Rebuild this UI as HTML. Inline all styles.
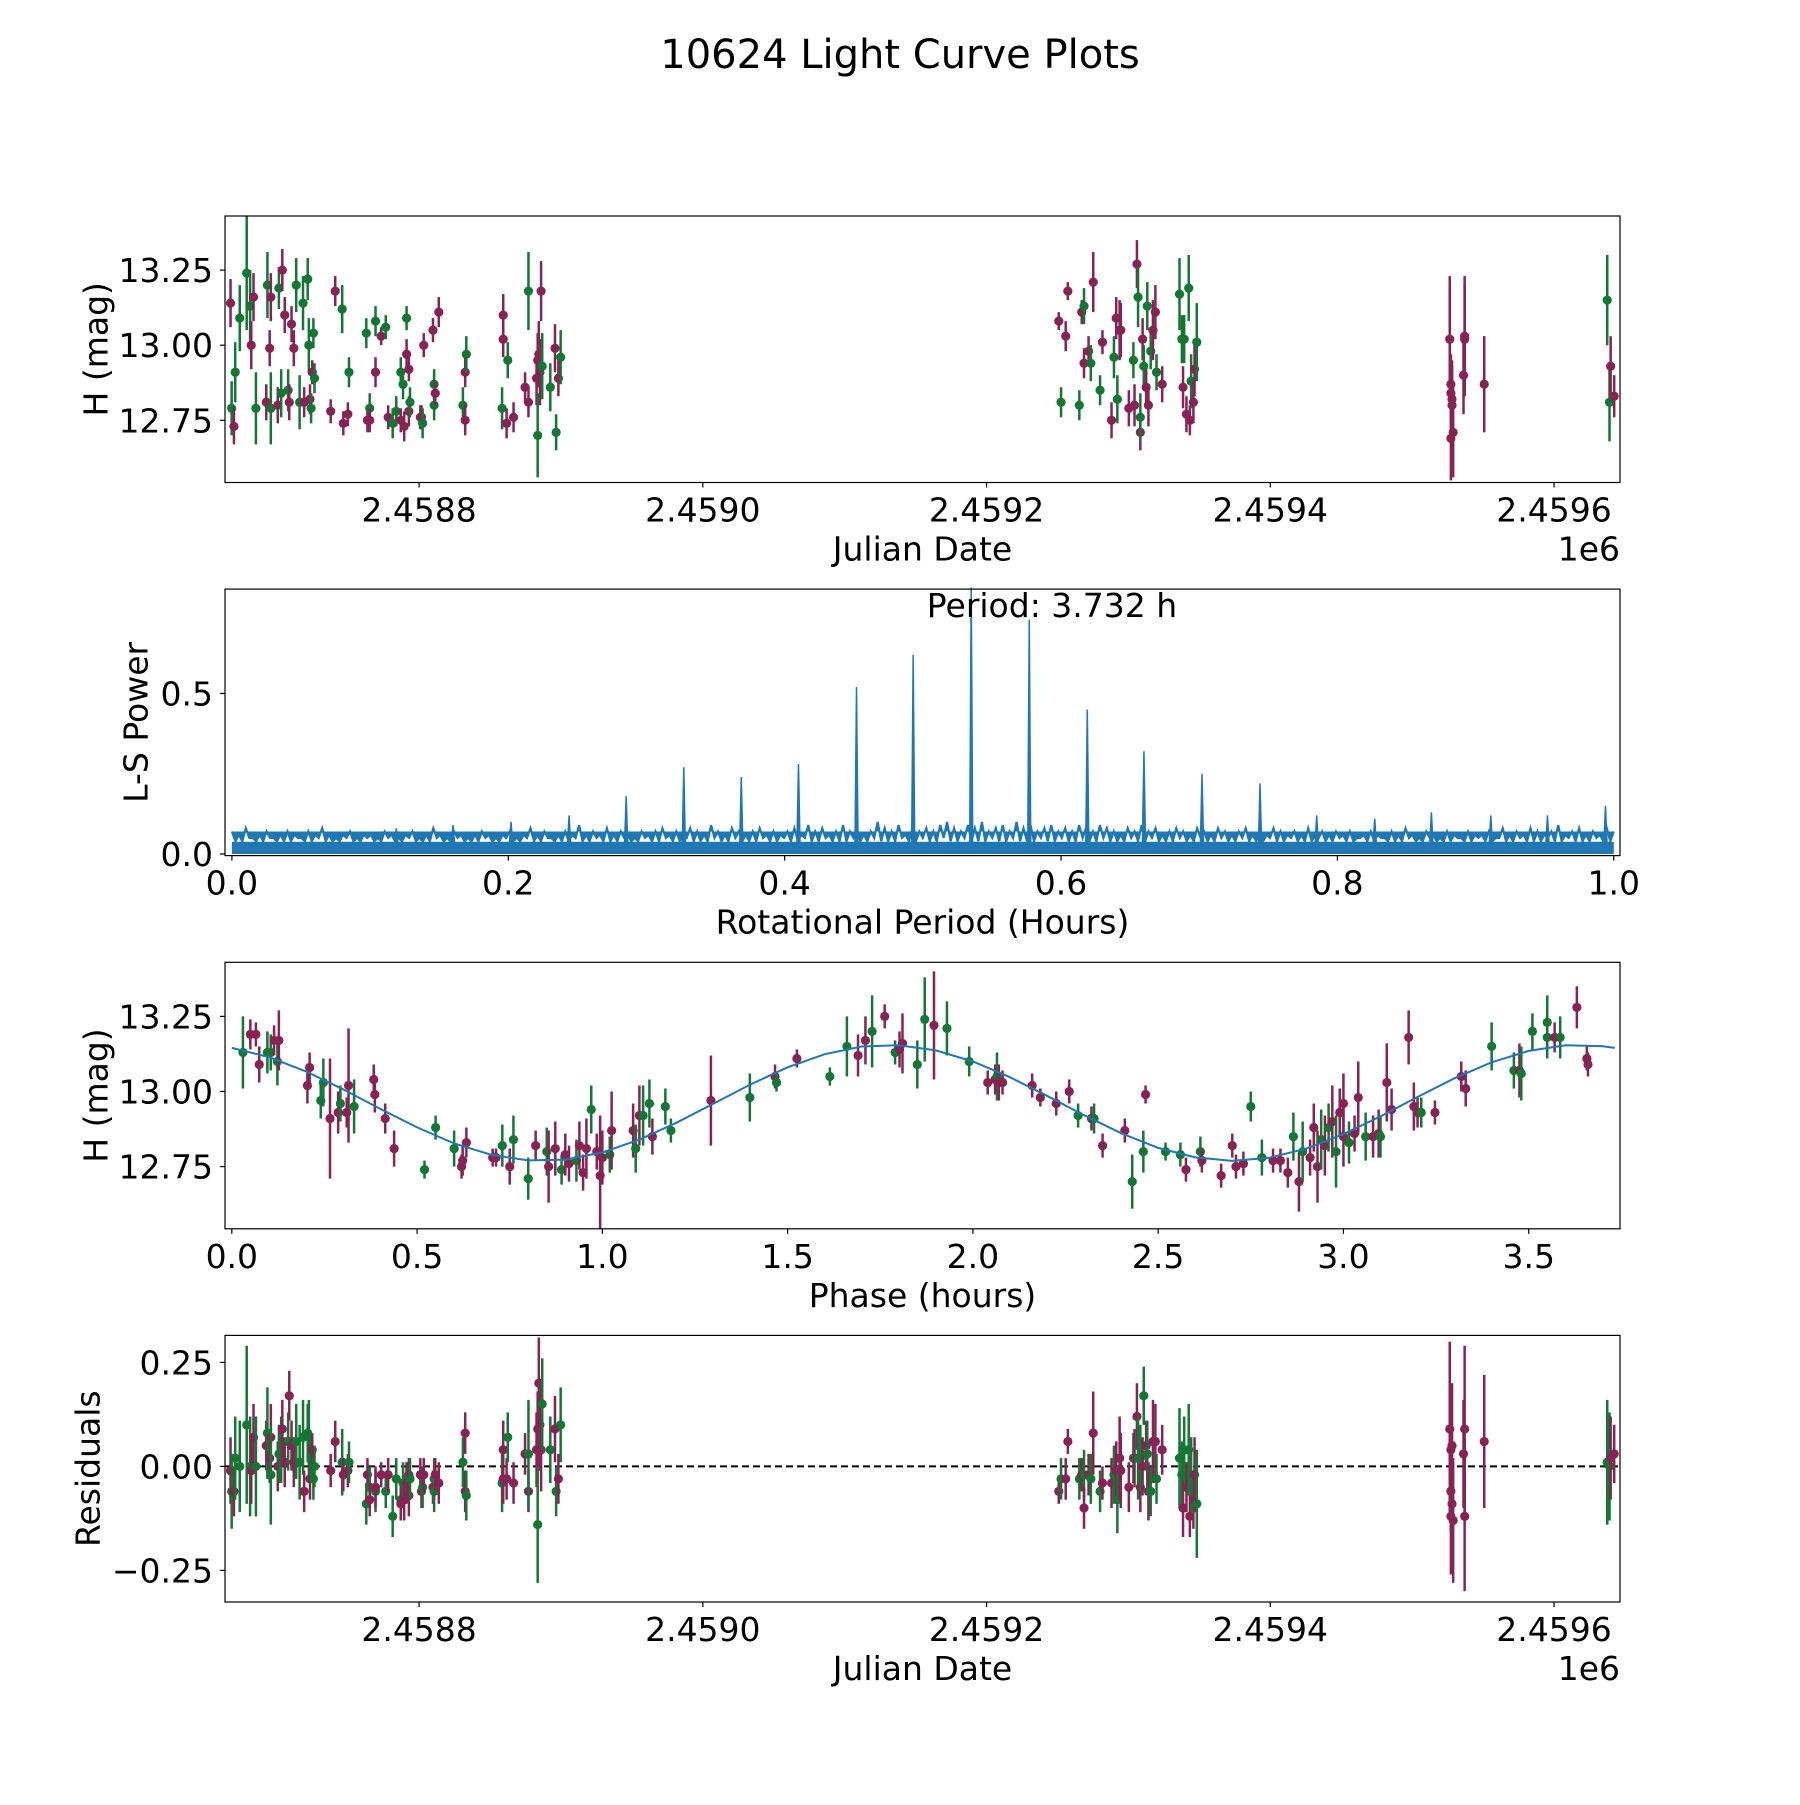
<!DOCTYPE html>
<html><head><meta charset="utf-8"><title>10624 Light Curve Plots</title>
<style>html,body{margin:0;padding:0;background:#fff}svg text{font-family:"DejaVu Sans","Liberation Sans",sans-serif;fill:#000}</style>
</head><body>
<svg id="fig" xmlns="http://www.w3.org/2000/svg" width="1800" height="1800" viewBox="0 0 1800 1800">
<rect width="1800" height="1800" fill="#fff"/>
<text x="900" y="68" font-size="40" text-anchor="middle">10624 Light Curve Plots</text>
<g id="g1"></g>
<g id="g2"></g>
<g id="g3"></g>
<g id="g4"></g>
</svg>
<script>
const JD0 = 2458015.5;
const obsT = [651.6,652.4,654,654.9,658.1,663,665.4,666.2,667.8,669.5,676.8,677.6,679.2,680,680,684.9,685.7,687.3,688.1,689.8,692.2,693,694.6,696.2,697.9,700.3,702.7,703.5,706,706.8,707.6,708.4,709.2,710,710.8,
722.2,725.4,730.3,731.1,734.3,735.1,747.3,748.1,749.7,749.7,753.8,753.8,757.8,761,762.7,765.9,768.4,771.6,771.6,773.2,774,775.7,775.7,777.3,777.3,778.1,785.4,786.2,787,787.8,794.3,795.1,795.1,795.9,798.4,
815.4,817,817,817.8,843,843.8,843.8,846.2,847,851.1,859.2,861.6,861.6,867.3,868.1,868.1,868.9,869.7,870.5,871.3,877,880.3,881.1,882.7,884.3,
1235.4,1237,1240.3,1241.8,1249.9,1251.6,1253.2,1253.2,1256.4,1258,1259.7,1264.5,1266.2,1272.6,1274.3,1275.9,1276.7,1278.3,1279.1,1284.8,1288,1288.8,1290.5,1291.3,1292.9,1292.9,1294.5,1295.3,1297,1297.8,1298.6,1300.2,1301.8,1303.5,1304.3,1308.3,1320.5,1322.2,1323,1323.8,1325.4,1327,1327.8,1328.7,1330.3,1331.1,1332.7,
1511,1511.8,1511.8,1511.8,1512.6,1512.6,1513.4,1520.7,1521.5,1521.5,1535.3,
1622,1623.6,1624.4,1626.9];
const obsMag = [13.14,12.79,12.73,12.91,13.09,13.24,13.13,13.00,13.16,12.79,12.81,13.20,12.99,13.16,12.79,12.80,13.19,12.84,13.25,13.10,12.85,12.81,13.07,12.99,13.20,12.81,13.14,12.81,13.22,13.00,12.82,12.79,12.91,13.04,12.89,
12.78,13.18,13.12,12.74,12.77,12.91,13.04,12.75,12.79,12.75,13.08,12.91,13.03,13.06,12.76,12.74,12.78,12.91,12.75,12.87,12.73,13.09,12.97,12.92,12.78,12.81,12.76,12.76,12.74,13.00,13.05,12.80,12.87,12.84,13.11,
12.80,12.91,12.75,12.97,12.79,13.10,13.02,12.74,12.95,12.76,12.86,12.81,13.18,12.89,12.95,12.70,12.97,12.91,13.18,12.93,12.86,12.99,12.71,12.89,12.96,
13.08,12.81,13.03,13.18,12.80,13.11,13.13,12.94,12.98,12.94,13.21,12.85,13.01,12.75,12.96,13.09,12.82,13.05,13.05,12.79,12.95,12.80,13.27,13.16,12.71,12.76,13.02,12.93,12.86,13.13,12.80,12.98,13.05,13.11,12.91,12.87,13.17,13.02,12.86,13.02,12.77,13.19,12.75,12.88,12.81,12.92,13.01,
13.02,12.87,12.84,12.69,12.80,12.82,12.71,12.90,13.03,13.02,12.87,
13.15,12.81,12.93,12.83];
const obsErr = [8,9,6,10,11,19,12,8,8,12,6,11,6,8,12,6,7,8,7,6,7,6,6,6,9,9,9,5,7,9,5,5,4,5,5,
4,5,8,4,4,5,5,4,5,4,5,5,3,4,4,5,5,5,4,5,5,4,5,4,5,5,4,4,5,4,4,5,5,4,5,
6,5,5,6,7,7,6,5,6,5,5,5,13,9,9,14,11,11,10,11,8,8,6,6,9,
3,5,5,3,5,4,6,5,5,6,10,5,4,6,7,7,8,10,9,6,6,7,8,10,6,8,7,7,6,8,7,6,10,9,6,6,12,8,7,8,6,11,5,9,7,9,13,
21,10,10,14,15,11,15,13,20,18,16,
15,13,10,7];
const obsResid = [-0.01,-0.06,-0.06,0.02,0.0,0.1,0.0,-0.01,0.07,0.0,0.05,0.08,0.02,0.07,-0.02,0.0,0.03,0.04,0.09,0.01,0.06,0.17,0.05,0.01,0.06,0.01,0.07,-0.06,0.08,0.07,-0.03,0.02,0.04,-0.03,0.0,
-0.01,0.06,0.01,-0.02,-0.01,0.01,-0.09,-0.02,-0.05,-0.08,-0.06,-0.05,-0.02,-0.06,-0.02,-0.12,-0.03,-0.08,-0.09,-0.04,-0.08,-0.03,-0.04,-0.02,-0.07,-0.03,-0.02,-0.06,-0.05,-0.02,-0.05,-0.03,-0.06,-0.02,-0.04,
0.01,0.08,-0.06,-0.07,-0.04,0.04,-0.03,-0.03,0.07,-0.04,0.03,-0.06,0.03,0.04,0.09,-0.14,0.2,0.1,0.04,0.15,0.04,0.09,-0.06,-0.03,0.1,
-0.06,-0.03,-0.03,0.06,-0.03,-0.02,-0.02,-0.1,-0.02,-0.03,0.08,-0.06,-0.04,-0.04,-0.02,-0.01,-0.08,0.02,-0.01,-0.05,0.02,0.02,0.12,0.02,-0.05,0.02,0.0,0.17,0.05,0.03,-0.06,-0.06,0.06,0.06,-0.03,0.04,0.02,-0.02,-0.1,0.04,-0.05,0.04,-0.12,-0.02,-0.08,-0.02,-0.09,
0.09,0.04,-0.06,-0.12,0.05,-0.09,-0.13,0.03,0.09,-0.12,0.06,
0.01,0.0,0.02,0.03];
const obsBand = "mgmggggmmgmgmmgmggmmgmmmgggmggmgmgg mmgmmggmgmgmmgmgggmgmgmmmgmmgmmggmm gmmggmmmgmmmgmmgmmmggmgmg mgmmgmgmmgmgmmgmgmmmgmmgmgmgmgmgmmgmggmgmgmgmmg mmmmmmmmmmm ggmm".replace(/ /g,"");

const phP = [0.03,0.05,0.065,0.074,0.096,0.105,0.114,0.123,0.127,0.204,0.21,0.24,0.247,0.265,0.287,0.293,0.31,0.315,0.33,0.383,0.386,0.414,0.438,0.52,0.55,0.6,0.62,0.623,0.633,0.704,0.713,0.73,0.75,0.76,0.8,0.82,0.85,0.855,0.873,0.89,0.9,0.91,0.93,0.938,0.948,0.957,0.97,0.985,0.994,1.0,1.02,1.025,1.083,1.09,1.1,1.11,1.127,1.135,1.17,1.185,1.293,1.398,1.466,1.47,1.525,1.614,1.66,1.69,1.71,1.728,1.762,1.79,1.802,1.81,1.85,1.87,1.895,1.93,1.99,2.04,2.06,2.065,2.07,2.08,2.16,2.182,2.225,2.26,2.284,2.32,2.327,2.35,2.41,2.43,2.466,2.46,2.52,2.56,2.575,2.614,2.618,2.67,2.7,2.71,2.73,2.75,2.78,2.81,2.83,2.85,2.865,2.88,2.89,2.91,2.92,2.93,2.94,2.95,2.96,2.97,2.98,2.99,3.0,3.0,3.015,3.03,3.04,3.06,3.08,3.095,3.1,3.117,3.13,3.176,3.19,3.2,3.21,3.247,3.318,3.33,3.4,3.46,3.475,3.48,3.51,3.55,3.55,3.57,3.585,3.63,3.657,3.66];
const phMag = [13.13,13.19,13.19,13.09,13.13,13.13,13.17,13.10,13.17,13.02,13.08,12.97,13.03,12.91,12.93,12.96,12.93,13.02,12.95,13.04,12.99,12.91,12.81,12.74,12.88,12.81,12.75,12.77,12.83,12.78,12.78,12.82,12.75,12.84,12.71,12.82,12.80,12.75,12.81,12.74,12.79,12.76,12.77,12.82,12.73,12.81,12.94,12.80,12.72,12.78,12.79,12.87,12.87,12.81,12.92,12.92,12.96,12.85,12.95,12.87,12.97,12.98,13.05,13.03,13.11,13.05,13.15,13.12,13.17,13.20,13.25,13.13,13.14,13.16,13.09,13.24,13.22,13.21,13.10,13.03,13.04,13.05,13.03,13.03,13.02,12.98,12.96,13.00,12.92,12.91,12.91,12.82,12.87,12.70,12.99,12.80,12.80,12.79,12.74,12.80,12.77,12.72,12.82,12.75,12.76,12.95,12.78,12.77,12.77,12.73,12.85,12.70,12.80,12.78,12.88,12.75,12.84,12.82,12.88,12.90,12.80,12.93,12.96,12.85,12.83,12.86,12.98,12.85,12.85,12.86,12.85,13.03,12.94,13.18,12.95,12.93,12.93,12.93,13.05,13.01,13.15,13.07,13.07,13.06,13.20,13.18,13.23,13.18,13.18,13.28,13.11,13.09];
const phErr = [12,5,4,6,7,6,5,8,10,6,5,6,8,20,7,6,5,19,9,5,6,5,6,3,4,6,4,5,5,3,3,7,6,8,7,5,8,12,9,5,7,6,7,8,6,10,8,6,20,9,6,13,9,8,10,10,8,6,6,4,15,8,4,3,3,3,10,7,8,12,4,4,6,10,8,14,18,9,5,4,5,8,6,4,4,3,4,4,4,4,5,4,4,9,3,7,3,4,4,5,4,4,4,4,4,5,6,4,4,5,8,10,10,6,8,12,10,10,8,12,12,8,10,10,7,6,12,8,7,8,7,13,7,9,8,5,5,4,5,6,8,6,9,9,6,7,9,5,7,7,4,4];
const phBand = "gmmmggmgmmmggmmgmmgmmmmgggmmmmmgmggmgmmgmmgmmmgmmmgmmgmggmggmgmgmggmmgmgmmggmggmmgmmmmmmgmgmmgmggg mgmmmmmggmmmgmgmmmgmgmgmmmgmmgmmgmmmmmgmmmggmggggmgmmm".replace(/ /g,"");

const fitPeriodHalf = 1.866;
const fitMean = 12.962;
const fitAmp = 0.193;
const fitPhase0 = 1.77;
const fitSamples = [0,0.1,0.2,0.3,0.4,0.5,0.6,0.7,0.8,0.9,1.0,1.1,1.2,1.3,1.4,1.5,1.6,1.7,1.8,1.9,2.0,2.1,2.2,2.3,2.4,2.5,2.6,2.7,2.8,2.9,3.0,3.1,3.2,3.3,3.4,3.5,3.6,3.7,3.732];

const lsNoise = [7,6,8,5,6,7,5,6,7,6,5,7,6,8,6,5,6,7,5,6,
6,5,7,6,5,6,7,5,6,8,6,5,7,6,5,6,7,6,5,6,
7,5,6,8,6,7,5,6,7,6,9,6,7,6,8,6,7,6,5,7,
6,7,8,6,7,6,8,7,6,9,7,6,8,7,6,7,8,6,7,6,
7,8,6,9,7,8,6,7,9,7,8,6,7,10,8,7,9,6,8,7,
8,7,9,10,8,7,9,8,10,7,8,9,7,10,8,9,7,8,9,7,
8,7,9,8,7,9,8,7,6,8,7,9,7,8,6,7,8,7,6,8,
7,6,8,7,6,7,8,6,7,6,8,7,6,7,6,8,6,7,6,7,
6,7,5,6,7,6,5,7,6,8,6,5,7,6,5,7,6,5,7,6,
6,7,5,8,6,7,6,8,7,6,7,9,6,7,8,6,7,6,8,7];
const lsNoiseLow = [4,4,5,4,4,5,4,4,4,5,4,4,5,4,4,4,5,4,4,5];
const lsFloor = 0.038;
const peakP = [0.119,0.16,0.202,0.244,0.2853,0.327,0.3686,0.41,0.452,0.493,0.535,0.577,0.619,0.66,0.702,0.744,0.785,0.827,0.868,0.911,0.952,0.994];
const peakH = [0.08,0.09,0.1,0.12,0.18,0.27,0.24,0.28,0.52,0.62,0.83,0.73,0.45,0.32,0.25,0.22,0.12,0.11,0.13,0.12,0.12,0.15];

const jdTicks = [2458800,2459000,2459200,2459400,2459600];
const jdTickLabels = ["2.4588","2.4590","2.4592","2.4594","2.4596"];
const magTicks = [13.25,13.00,12.75];
const magTickLabels = ["13.25","13.00","12.75"];
const lsXTicks = [0,0.2,0.4,0.6,0.8,1.0];
const lsXTickLabels = ["0.0","0.2","0.4","0.6","0.8","1.0"];
const lsYTicks = [0,0.5];
const lsYTickLabels = ["0.0","0.5"];
const phTicks = [0,0.5,1,1.5,2,2.5,3,3.5];
const phTickLabels = ["0.0","0.5","1.0","1.5","2.0","2.5","3.0","3.5"];
const resTicks = [0.25,0,-0.25];
const resTickLabels = ["0.25","0.00","\u22120.25"];

const NS="http://www.w3.org/2000/svg";
const GREEN="#117733", MAG="#882255", BLUE="#1f77b4";
const L=225, R=1620;
const P=[[216,482.5],[589.1,855.6],[962.3,1228.8],[1335.4,1602]];
function mk(tag,attrs,parent){const e=document.createElementNS(NS,tag);for(const k in attrs)e.setAttribute(k,attrs[k]);parent.appendChild(e);return e;}
function lin(d0,d1,r0,r1){return v=>r0+(v-d0)/(d1-d0)*(r1-r0);}

const xJD=lin(2458663.2,2459646.5,L,R);
const yMag1=lin(12.543,13.43,P[0][1],P[0][0]);
const xLS=lin(-0.005,1.0045,L,R);
const yLS=lin(-0.005,0.825,P[1][1],P[1][0]);
const xPh=lin(-0.0184,3.7464,L,R);
const yMag3=lin(12.543,13.43,P[2][1],P[2][0]);
const yRes=lin(-0.326,0.315,P[3][1],P[3][0]);

function frame(g,top,bot){
  const r=mk('rect',{x:L,y:top,width:R-L,height:bot-top,fill:'none',stroke:'#000','stroke-width':1.2},g);
  
  
}
function xticks(g,bot,ticks,labels,sc){
  ticks.forEach((t,i)=>{
    const x=sc(t);
    const l=mk('line',{x1:x,x2:x,y1:bot,y2:bot+5,stroke:'#000','stroke-width':1.2},g);
    
    
    const tx=mk('text',{x:x,y:bot+39,'font-size':33,'text-anchor':'middle'},g);
    tx.textContent=labels[i];
    
    
  });
}
function yticks(g,ticks,labels,sc){
  ticks.forEach((t,i)=>{
    const y=sc(t);
    const l=mk('line',{x1:L-5,x2:L,y1:y,y2:y,stroke:'#000','stroke-width':1.2},g);
    
    
    const tx=mk('text',{x:L-12,y:y+12,'font-size':33,'text-anchor':'end'},g);
    tx.textContent=labels[i];
    
    
  });
}
function xlabel(g,bot,txt){
  const t=mk('text',{x:(L+R)/2,y:bot+78,'font-size':33,'text-anchor':'middle'},g);
  t.textContent=txt;
  
  
}
function ylabel(g,top,bot,x,txt){
  const cy=(top+bot)/2;
  const t=mk('text',{x:x,y:cy,'font-size':33,'text-anchor':'middle','dominant-baseline':'central',transform:`rotate(-90 ${x} ${cy})`},g);
  t.textContent=txt;
  
  
}
function offsetLabel(g,bot){
  const t=mk('text',{x:R,y:bot+78,'font-size':33,'text-anchor':'end'},g);
  t.textContent='1e6';
  
  
}
function point(g,x,y,yl,yh,col,top,bot){
  const c0=Math.max(top,Math.min(bot,yl)), c1=Math.max(top,Math.min(bot,yh));
  const l=mk('line',{x1:x,x2:x,y1:c0,y2:c1,stroke:col,'stroke-width':2.5},g);
  
  
  const c=mk('circle',{cx:x,cy:y,r:4.6,fill:col},g);
  
  
}

// Panel 1
(function(){
  const g=document.getElementById('g1');const [top,bot]=P[0];
  const n=Math.min(obsT.length,obsMag.length,obsErr.length,obsBand.length);
  for(let i=0;i<n;i++){
    const jd=JD0+obsT[i], m=obsMag[i], e=obsErr[i]/100;
    point(g,xJD(jd),yMag1(m),yMag1(m-e),yMag1(m+e),obsBand[i]==='g'?GREEN:MAG,top,bot);
  }
  frame(g,top,bot);xticks(g,bot,jdTicks,jdTickLabels,xJD);yticks(g,magTicks,magTickLabels,yMag1);
  xlabel(g,bot,'Julian Date');offsetLabel(g,bot);ylabel(g,top,bot,96,'H (mag)');
})();

// Panel 2
(function(){
  const g=document.getElementById('g2');const [top,bot]=P[1];
  const base=mk('rect',{x:xLS(0),y:yLS(lsFloor),width:xLS(1)-xLS(0),height:yLS(0)-yLS(lsFloor),fill:BLUE},g);
  
  
  const N=lsNoise.length;let pts=[];
  for(let i=0;i<N;i++){
    const p=i/(N-1), p2=(i+0.5)/(N-1);
    pts.push(xLS(p).toFixed(1)+','+yLS(lsNoise[i]/100).toFixed(1));
    if(i<N-1) pts.push(xLS(p2).toFixed(1)+','+yLS(lsNoiseLow[i%lsNoiseLow.length]/100).toFixed(1));
  }
  const pl=mk('polyline',{points:pts.join(' '),fill:BLUE,stroke:BLUE,'stroke-width':2.2},g);
  
  
  peakP.forEach((p,i)=>{
    const x=xLS(p);
    const pk=mk('polygon',{points:`${x-1.5},${yLS(lsFloor)} ${x},${yLS(peakH[i])} ${x+1.5},${yLS(lsFloor)}`,fill:BLUE,stroke:BLUE,'stroke-width':1.5},g);
    
    
  });
  frame(g,top,bot);xticks(g,bot,lsXTicks,lsXTickLabels,xLS);yticks(g,lsYTicks,lsYTickLabels,yLS);
  xlabel(g,bot,'Rotational Period (Hours)');ylabel(g,top,bot,136,'L-S Power');
  const t=mk('text',{x:1052,y:617,'font-size':33,'text-anchor':'middle'},g);
  t.textContent='Period: 3.732 h';
  
  
})();

// Panel 3
(function(){
  const g=document.getElementById('g3');const [top,bot]=P[2];
  const n=Math.min(phP.length,phMag.length,phErr.length,phBand.length);
  for(let i=0;i<n;i++){
    const m=phMag[i], e=phErr[i]/100;
    point(g,xPh(phP[i]),yMag3(m),yMag3(m-e),yMag3(m+e),phBand[i]==='g'?GREEN:MAG,top,bot);
  }
  const pts=fitSamples.map(p=>{const m=fitMean+fitAmp*Math.cos(2*Math.PI*(p-fitPhase0)/fitPeriodHalf);return xPh(p).toFixed(1)+','+yMag3(m).toFixed(1);});
  const pl=mk('polyline',{points:pts.join(' '),fill:'none',stroke:BLUE,'stroke-width':2},g);
  
  
  frame(g,top,bot);xticks(g,bot,phTicks,phTickLabels,xPh);yticks(g,magTicks,magTickLabels,yMag3);
  xlabel(g,bot,'Phase (hours)');ylabel(g,top,bot,96,'H (mag)');
})();

// Panel 4
(function(){
  const g=document.getElementById('g4');const [top,bot]=P[3];
  const z=mk('line',{x1:L,x2:R,y1:yRes(0),y2:yRes(0),stroke:'#000','stroke-width':2,'stroke-dasharray':'7,4'},g);
  
  
  const n=Math.min(obsT.length,obsResid.length,obsErr.length,obsBand.length);
  for(let i=0;i<n;i++){
    const r=obsResid[i], e=obsErr[i]/100;
    point(g,xJD(JD0+obsT[i]),yRes(r),yRes(r-e),yRes(r+e),obsBand[i]==='g'?GREEN:MAG,top,bot);
  }
  frame(g,top,bot);xticks(g,bot,jdTicks,jdTickLabels,xJD);yticks(g,resTicks,resTickLabels,yRes);
  xlabel(g,bot,'Julian Date');offsetLabel(g,bot);ylabel(g,top,bot,88,'Residuals');
})();
</script>
</body></html>
